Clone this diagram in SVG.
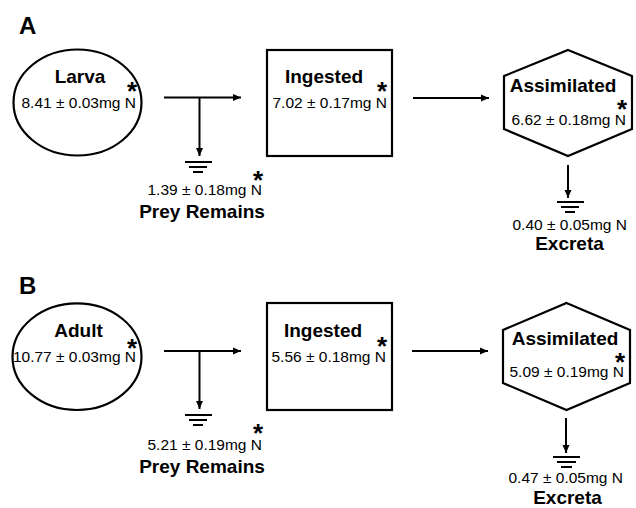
<svg xmlns="http://www.w3.org/2000/svg" width="636" height="508" viewBox="0 0 636 508">
<style>
.shape{fill:#fff;stroke:#000;stroke-width:2.2}
.ln{fill:none;stroke:#000;stroke-width:2}
.gnd{fill:none;stroke:#000;stroke-width:1.8}
.b{font-family:"Liberation Sans",Arial,sans-serif;font-weight:bold;font-size:19px;fill:#000;text-anchor:middle}
.n{font-family:"Liberation Sans",Arial,sans-serif;font-size:15.5px;fill:#000;text-anchor:end}
.s{font-weight:bold;font-size:26px;text-anchor:middle}
.p{font-family:"Liberation Sans",Arial,sans-serif;font-weight:bold;font-size:24px;fill:#000}
</style>
<defs>
<marker id="ah" markerUnits="userSpaceOnUse" markerWidth="10" markerHeight="8" refX="8" refY="4" orient="auto">
<path d="M0,0.5 L8,4 L0,7.5 Z" fill="#000"/>
</marker>
</defs>
<rect width="636" height="508" fill="#fff"/>
<text class="p" x="19" y="34">A</text>
<text class="p" x="19" y="294">B</text>

<g id="connectors">
<line class="ln" x1="164" y1="97.5" x2="241" y2="97.5" marker-end="url(#ah)"/>
<line class="ln" x1="199.5" y1="97.5" x2="199.5" y2="156" marker-end="url(#ah)"/>
<line class="ln" x1="413" y1="98" x2="489" y2="98" marker-end="url(#ah)"/>
<line class="ln" x1="568" y1="165" x2="568" y2="198" marker-end="url(#ah)"/>
<line class="ln" x1="164" y1="351" x2="241" y2="351" marker-end="url(#ah)"/>
<line class="ln" x1="199.5" y1="351" x2="199.5" y2="409" marker-end="url(#ah)"/>
<line class="ln" x1="412" y1="351" x2="488" y2="351" marker-end="url(#ah)"/>
<line class="ln" x1="566" y1="418" x2="566" y2="453" marker-end="url(#ah)"/>
</g>

<g id="larva">
<ellipse class="shape" cx="77.5" cy="102.5" rx="64" ry="53"/>
<text class="b" x="80" y="83">Larva</text>
<text class="n" x="136" y="108">8.41 ± 0.03mg N<tspan class="s" x="132" y="100">*</tspan></text>
</g>
<g id="ingestedA">
<rect class="shape" x="267" y="50" width="125" height="106"/>
<text class="b" x="324" y="83">Ingested</text>
<text class="n" x="387" y="108">7.02 ± 0.17mg N<tspan class="s" x="382" y="100">*</tspan></text>
</g>
<g id="assimilatedA">
<polygon class="shape" points="568,50 632,76 632,129 568,156 504,129 504,76"/>
<text class="b" x="563" y="92">Assimilated</text>
<text class="n" x="626" y="125">6.62 ± 0.18mg N<tspan class="s" x="622" y="118">*</tspan></text>
</g>
<g id="preyA">
<path class="gnd" d="M185,162 H212 M189,167 H207 M193,172 H203"/>
<text class="n" x="262" y="195">1.39 ± 0.18mg N<tspan class="s" x="258" y="189">*</tspan></text>
<text class="b" x="202" y="218">Prey Remains</text>
</g>
<g id="excretaA">
<path class="gnd" d="M557,202 H584 M561,207 H579 M565,212 H575"/>
<text class="n" x="627" y="230">0.40 ± 0.05mg N</text>
<text class="b" x="569.5" y="250">Excreta</text>
</g>

<g id="adult">
<ellipse class="shape" cx="77" cy="356.7" rx="64.5" ry="53.3"/>
<text class="b" x="78.5" y="337">Adult</text>
<text class="n" x="136" y="362">10.77 ± 0.03mg N<tspan class="s" x="132" y="357">*</tspan></text>
</g>
<g id="ingestedB">
<rect class="shape" x="267" y="303" width="125" height="107"/>
<text class="b" x="323" y="337">Ingested</text>
<text class="n" x="386" y="362">5.56 ± 0.18mg N<tspan class="s" x="382" y="355">*</tspan></text>
</g>
<g id="assimilatedB">
<polygon class="shape" points="566.5,303 630,330 630,383 566.5,410 503,383 503,330"/>
<text class="b" x="565" y="345">Assimilated</text>
<text class="n" x="624" y="377">5.09 ± 0.19mg N<tspan class="s" x="620" y="371">*</tspan></text>
</g>
<g id="preyB">
<path class="gnd" d="M185,415 H212 M189,420 H207 M193,425 H203"/>
<text class="n" x="262" y="450">5.21 ± 0.19mg N<tspan class="s" x="258" y="442">*</tspan></text>
<text class="b" x="202" y="473">Prey Remains</text>
</g>
<g id="excretaB">
<path class="gnd" d="M553,457 H580 M557,462 H576 M561,467 H572"/>
<text class="n" x="623" y="483">0.47 ± 0.05mg N</text>
<text class="b" x="567.5" y="504">Excreta</text>
</g>
</svg>
